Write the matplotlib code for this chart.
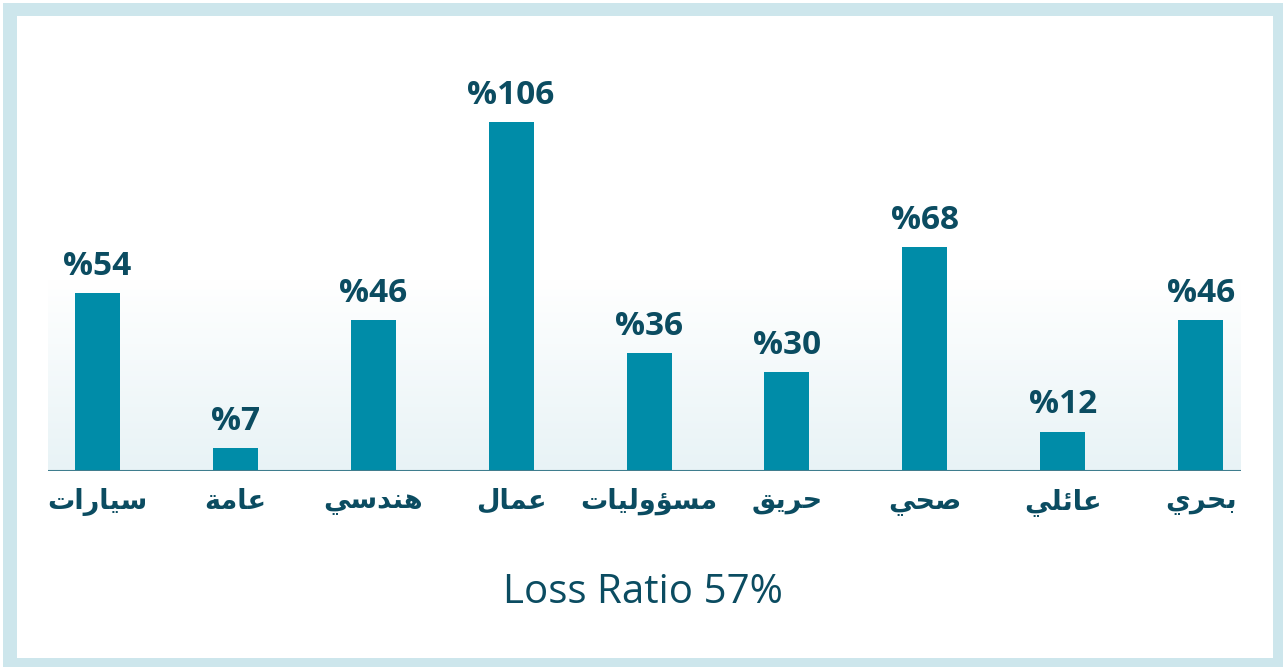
import unicodedata
import numpy as np
import matplotlib
matplotlib.use("Agg")
import matplotlib.pyplot as plt
from matplotlib.patches import Rectangle
from matplotlib.colors import LinearSegmentedColormap

# ---- data ----
categories = ["سيارات", "عامة", "هندسي", "عمال", "مسؤوليات", "حريق", "صحي", "عائلي", "بحري"]
values = [54, 7, 46, 106, 36, 30, 68, 12, 46]
value_labels = ["%54", "%7", "%46", "%106", "%36", "%30", "%68", "%12", "%46"]
title_text = "Loss Ratio 57%"

BAR = "#008ca8"
TXT = "#0b4c61"
FRAME = "#cde6ec"


def shape_ar(word):
    """Minimal Arabic contextual shaping + visual (RTL) ordering."""
    def forms(ch):
        try:
            name = unicodedata.name(ch)
        except ValueError:
            return {}
        f = {}
        for k, suf in (("iso", " ISOLATED FORM"), ("fin", " FINAL FORM"),
                       ("ini", " INITIAL FORM"), ("med", " MEDIAL FORM")):
            try:
                f[k] = unicodedata.lookup(name + suf)
            except KeyError:
                pass
        return f
    F = [forms(c) for c in word]
    n = len(word)
    out = []
    for i, c in enumerate(word):
        f = F[i]
        jp = i > 0 and "ini" in F[i - 1]
        jn = "ini" in f and i < n - 1 and "fin" in F[i + 1]
        if jp and jn:
            k = "med"
        elif jp:
            k = "fin"
        elif jn:
            k = "ini"
        else:
            k = "iso"
        out.append(f.get(k, c))
    return "".join(reversed(out))


W, H = 1283, 667
fig = plt.figure(figsize=(W / 100, H / 100), dpi=100)
fig.patch.set_facecolor("white")

# frame
fig.patches.append(Rectangle((3 / W, 0), 1 - 3 / W, 1 - 3 / H, transform=fig.transFigure,
                             facecolor=FRAME, edgecolor="none", zorder=-10))
fig.patches.append(Rectangle((17 / W, 1 - 658 / H), (1273 - 17) / W, (658 - 16) / H,
                             transform=fig.transFigure, facecolor="white",
                             edgecolor="none", zorder=-9))

# axes: x 48..1241 px, y baseline 471 px, top 18 px
ax_l, ax_r, ax_t, ax_b = 48, 1241, 18, 471
ax = fig.add_axes([ax_l / W, 1 - ax_b / H, (ax_r - ax_l) / W, (ax_b - ax_t) / H])
ax.patch.set_alpha(0)
ppu_x = 137.9
x0_px = 97.4
x = np.arange(len(categories))
left = -(x0_px - ax_l) / ppu_x
ax.set_xlim(left, left + (ax_r - ax_l) / ppu_x)
ppu_y = 3.29
ax.set_ylim(0, (ax_b - ax_t) / ppu_y)

# gradient background band
grad_top = 58
cmap = LinearSegmentedColormap.from_list("g", ["#e8f3f6", "#ffffff"])
ax.imshow(np.linspace(0, 1, 256).reshape(-1, 1), cmap=cmap, aspect="auto",
          extent=[ax.get_xlim()[0], ax.get_xlim()[1], 0, grad_top], origin="lower",
          zorder=0)

ax.bar(x, values, width=45 / ppu_x, color=BAR, zorder=2)

for spine in ax.spines.values():
    spine.set_visible(False)
ax.axhline(0, color="#3f7d8e", lw=1.5, zorder=3)
ax.set_xticks([])
ax.set_yticks([])

for xi, v, lab in zip(x, values, value_labels):
    ax.annotate(lab, xy=(xi, v), xytext=(0, 13), textcoords="offset points",
                ha="center", va="baseline", fontsize=24, fontweight="bold",
                color=TXT, family=["Open Sans", "DejaVu Sans"], zorder=4)

for xi, cat in zip(x, categories):
    ax.annotate(shape_ar(cat), xy=(xi, 0), xytext=(0, -22), textcoords="offset points",
                ha="center", va="center", fontsize=19.5, fontweight="bold",
                color=TXT, family=["DejaVu Sans"], annotation_clip=False)

fig.text(643 / W, 1 - 603 / H, title_text, ha="center", va="baseline",
         fontsize=29, color=TXT, family=["Open Sans", "DejaVu Sans"])

fig.savefig("out.png", dpi=100, facecolor=fig.get_facecolor())
